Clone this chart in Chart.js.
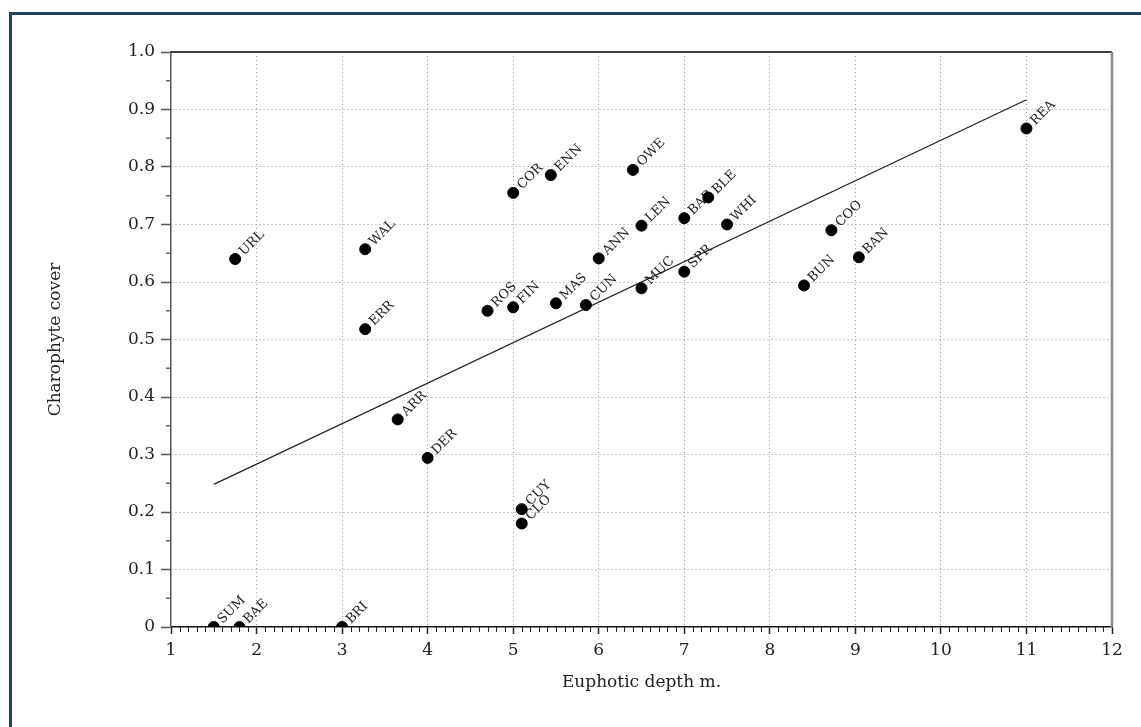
<!DOCTYPE html>
<html>
<head>
<meta charset="utf-8">
<title>Charophyte cover vs euphotic depth</title>
<script src="https://cdn.jsdelivr.net/npm/chart.js@4.4.1/dist/chart.umd.min.js"></script>
<style>
  html, body { margin: 0; padding: 0; background: #fff; overflow: hidden; }
  #wrap { position: relative; width: 1141px; height: 727px; }
  #frame {
    position: absolute; left: 9px; top: 12px; width: 1200px; height: 800px;
    border-left: 3px solid #21406b; border-top: 3px solid #21406b;
    pointer-events: none;
  }
  canvas { position: absolute; left: 0; top: 0; }
</style>
</head>
<body>
<div id="wrap">
  <canvas id="chart" width="1141" height="727"></canvas>
  <div id="frame"></div>
</div>
<script>
// lake codes with euphotic depth (m) and charophyte cover
const siteCodes = ["SUM", "BAE", "BRI", "URL", "WAL", "ERR", "ARR", "DER", "ROS", "FIN",
  "COR", "ENN", "MAS", "CUN", "ANN", "CUY", "CLO", "OWE", "LEN", "MUC",
  "BAR", "SPR", "BLE", "WHI", "BUN", "COO", "BAN", "REA"];
const euphoticDepth = [1.5, 1.8, 3.0, 1.75, 3.27, 3.27, 3.65, 4.0, 4.7, 5.0,
  5.0, 5.44, 5.5, 5.85, 6.0, 5.1, 5.1, 6.4, 6.5, 6.5,
  7.0, 7.0, 7.28, 7.5, 8.4, 8.72, 9.04, 11.0];
const charophyteCover = [0, 0, 0, 0.64, 0.657, 0.518, 0.361, 0.294, 0.55, 0.556,
  0.755, 0.786, 0.563, 0.56, 0.641, 0.205, 0.18, 0.795, 0.698, 0.589,
  0.711, 0.618, 0.747, 0.70, 0.594, 0.69, 0.643, 0.867];

// fitted line end points
const fitDepth = [1.5, 11.0];
const fitCover = [0.248, 0.917];

const xTickMin = 1, xTickMax = 12;
const yTickMin = 0, yTickMax = 1;

const serif = "'DejaVu Serif', 'Liberation Serif', serif";

const points = euphoticDepth.map((d, i) => ({ x: d, y: charophyteCover[i] }));
const fitPoints = fitDepth.map((d, i) => ({ x: d, y: fitCover[i] }));

// rotated site code next to each point, drawn under the dots
const siteLabels = {
  id: "siteLabels",
  beforeDatasetsDraw(chart) {
    const ctx = chart.ctx;
    const meta = chart.getDatasetMeta(0);
    ctx.save();
    ctx.font = "13px " + serif;
    ctx.fillStyle = "#222";
    ctx.textAlign = "left";
    ctx.textBaseline = "middle";
    meta.data.forEach((pt, i) => {
      ctx.save();
      ctx.translate(pt.x + 5, pt.y - 4);
      ctx.rotate(-Math.PI / 4);
      ctx.fillText(siteCodes[i], 2, 0);
      ctx.restore();
    });
    ctx.restore();
  }
};

// minor ticks plus the top and right frame of the plot
const frameAndMinorTicks = {
  id: "frameAndMinorTicks",
  afterDraw(chart) {
    const ctx = chart.ctx;
    const area = chart.chartArea;
    const xs = chart.scales.x, ys = chart.scales.y;
    ctx.save();
    ctx.lineWidth = 1;
    ctx.strokeStyle = "#222";
    ctx.beginPath();
    for (let i = 1; i < (xTickMax - xTickMin) * 10; i++) {
      if (i % 10 === 0) continue;
      const px = Math.round(xs.getPixelForValue(xTickMin + i / 10)) + 0.5;
      ctx.moveTo(px, area.bottom);
      ctx.lineTo(px, area.bottom + 5);
    }
    ctx.stroke();
    ctx.strokeStyle = "#666";
    ctx.lineWidth = 1.5;
    ctx.beginPath();
    for (let i = 0; i < 10; i++) {
      const py = ys.getPixelForValue(0.05 + i / 10);
      ctx.moveTo(area.left - 5, py);
      ctx.lineTo(area.left, py);
    }
    ctx.stroke();
    // top edge
    ctx.strokeStyle = "#000";
    ctx.lineWidth = 1.5;
    ctx.beginPath();
    ctx.moveTo(area.left, area.top);
    ctx.lineTo(area.right, area.top);
    ctx.stroke();
    // right edge
    ctx.strokeStyle = "#8a8a8a";
    ctx.lineWidth = 2.5;
    ctx.beginPath();
    ctx.moveTo(area.right, area.top);
    ctx.lineTo(area.right, area.bottom);
    ctx.stroke();
    ctx.restore();
  }
};

const ctx = document.getElementById("chart").getContext("2d");
new Chart(ctx, {
  type: "scatter",
  data: {
    datasets: [
      {
        label: "Lakes",
        data: points,
        backgroundColor: "#000",
        borderColor: "#000",
        pointRadius: 5.5,
        pointHoverRadius: 5.5,
      },
      {
        type: "line",
        label: "Fit",
        data: fitPoints,
        borderColor: "#222",
        borderWidth: 1.2,
        pointRadius: 0,
        fill: false,
      },
    ],
  },
  options: {
    responsive: false,
    animation: false,
    layout: {
      autoPadding: false,
      padding: { left: 0, top: 52, right: 29, bottom: 34 },
    },
    plugins: {
      legend: { display: false },
      tooltip: { enabled: false },
    },
    scales: {
      x: {
        type: "linear",
        min: xTickMin,
        max: xTickMax,
        afterFit: (scale) => { scale.height = 66; },
        ticks: {
          stepSize: 1,
          padding: 6,
          maxRotation: 0,
          color: "#222",
          font: { family: serif, size: 17 },
        },
        grid: {
          color: (c) => (c.tick && (c.tick.value === xTickMin || c.tick.value === xTickMax)) ? "rgba(0,0,0,0)" : "#9a9a9a",
          lineWidth: 1,
          tickLength: 7,
          tickColor: "#222",
          tickWidth: 1.5,
          tickBorderDash: [],
        },
        border: { color: "#111", width: 1.5, dash: [1, 3] },
        title: {
          display: true,
          text: "Euphotic depth m.",
          color: "#222",
          font: { family: serif, size: 17 },
          padding: { top: 0, bottom: 0 },
        },
      },
      y: {
        type: "linear",
        min: yTickMin,
        max: yTickMax,
        afterFit: (scale) => { scale.width = 171; },
        ticks: {
          stepSize: 0.1,
          padding: 6,
          color: "#222",
          font: { family: serif, size: 17 },
          callback: (v) => (v === 0 ? "0" : Number(v).toFixed(1)),
        },
        grid: {
          color: (c) => (c.tick && (c.tick.value <= yTickMin + 1e-9 || c.tick.value >= yTickMax - 1e-9)) ? "rgba(0,0,0,0)" : "#9a9a9a",
          lineWidth: 1,
          tickLength: 10,
          tickColor: "#555",
          tickWidth: 1.5,
          tickBorderDash: [],
        },
        border: { color: "#555", width: 1.5, dash: [1, 3] },
        title: {
          display: true,
          text: "Charophyte cover",
          color: "#222",
          font: { family: serif, size: 17 },
          padding: { top: 45, bottom: 0 },
        },
      },
    },
  },
  plugins: [siteLabels, frameAndMinorTicks],
});
</script>
</body>
</html>
